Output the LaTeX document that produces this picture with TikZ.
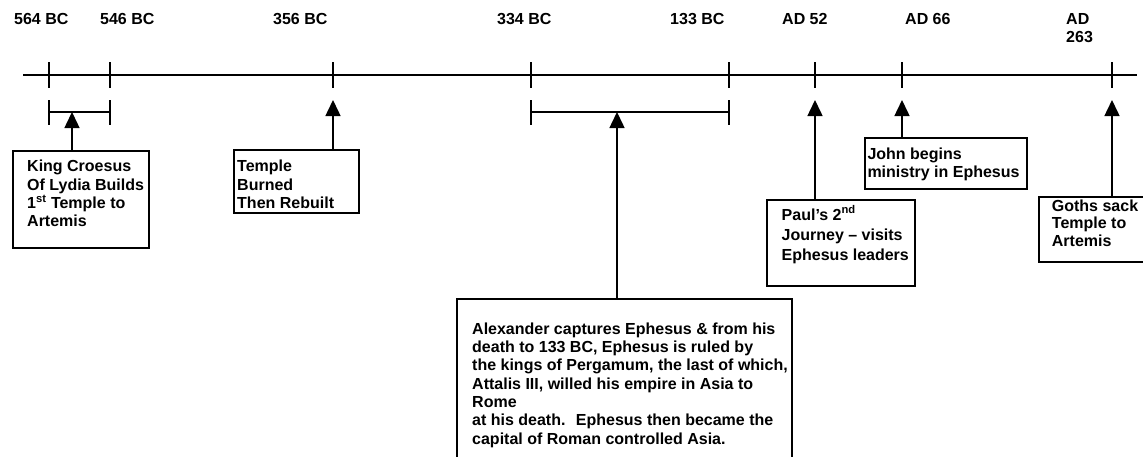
\documentclass[tikz,border=0pt]{standalone}
\usepackage{fontspec}
\setmainfont{Liberation Sans}
\usetikzlibrary{arrows.meta}
\begin{document}
\begin{tikzpicture}[x=1pt,y=-1pt,
  txt/.style={font=\fontsize{16}{18.3}\selectfont\bfseries, inner sep=0pt, anchor=base west},
  box/.style={draw, line width=1.8pt, inner sep=0pt, anchor=north west},
  ln/.style={line width=1.5pt},
  arr/.style={line width=1.5pt, -{Triangle[length=16pt,width=15pt]}}]
\useasboundingbox (0,0) rectangle (1143,456);
\clip (0,0) rectangle (1143,456);

% timeline
\coordinate (L) at (23,75);
\coordinate (R) at (1137,75);
\draw[ln] (L) -- (R);
\foreach \x in {49,110,333,531,729,815,902,1112}
  \draw[ln] (\x,62) -- (\x,88);

% date labels
\node[txt] (d1) at (14,24) {564 BC};
\node[txt] (d2) at (100,24) {546 BC};
\node[txt] (d3) at (273,24) {356 BC};
\node[txt] (d4) at (497,24) {334 BC};
\node[txt] (d5) at (670,24) {133 BC};
\node[txt] (d6) at (782,24) {AD 52};
\node[txt] (d7) at (905,24) {AD 66};
\node[txt] (d8) at (1066,24) {\parbox[t]{60pt}{\baselineskip=18.3pt AD\\263}};

% brackets
\draw[ln] (49,100) -- (49,125) (110,100) -- (110,125) (49,112) -- (110,112);
\draw[ln] (531,100) -- (531,125) (729,100) -- (729,125) (531,112) -- (729,112);
\coordinate (bK) at (72,112);
\coordinate (bA) at (617,112);
\coordinate (aT) at (333,100);
\coordinate (aP) at (815,100);
\coordinate (aJ) at (902,100);
\coordinate (aG) at (1112,100);

% boxes
\node[box, minimum width=136pt, minimum height=97pt] (boxK) at (12,150) {};
\node[box, minimum width=125pt, minimum height=63pt] (boxT) at (233,149) {};
\node[box, minimum width=335pt, minimum height=200pt] (boxA) at (456,298) {};
\node[box, minimum width=148pt, minimum height=86pt] (boxP) at (766,199) {};
\node[box, minimum width=162pt, minimum height=51pt] (boxJ) at (864,137) {};
\node[box, minimum width=130pt, minimum height=65pt] (boxG) at (1038,196) {};

% texts
\node[txt] (tK) at (27,171.7) {\parbox[t]{130pt}{\baselineskip=18.3pt King Croesus\\Of Lydia Builds\\1\textsuperscript{st} Temple to\\Artemis}};
\node[txt] (tT) at (237,171.7) {\parbox[t]{120pt}{\baselineskip=18.3pt Temple\\Burned\\Then Rebuilt}};
\node[txt] (tA) at (472,334.3) {\parbox[t]{330pt}{\baselineskip=18.3pt Alexander captures Ephesus \& from his\\death to 133 BC, Ephesus is ruled by\\the kings of Pergamum, the last of which,\\Attalis III, willed his empire in Asia to\\Rome\\at his death.~ Ephesus then became the\\capital of Roman controlled Asia.}};
\node[txt] (tP) at (781.5,220) {\parbox[t]{140pt}{\baselineskip=18.3pt Paul’s 2\textsuperscript{nd}\\[2pt]Journey – visits\\[1.7pt]Ephesus leaders}};
\node[txt] (tJ) at (867.3,159.3) {\parbox[t]{160pt}{\baselineskip=18pt John begins\\ministry in Ephesus}};
\node[txt] (tG) at (1051.7,211) {\parbox[t]{100pt}{\baselineskip=17.6pt Goths sack\\Temple to\\Artemis}};

% connectors
\draw[arr] (bK |- boxK.north) -- (bK);
\draw[arr] (aT |- boxT.north) -- (aT);
\draw[arr] (bA |- boxA.north) -- (bA);
\draw[arr] (aP |- boxP.north) -- (aP);
\draw[arr] (aJ |- boxJ.north) -- (aJ);
\draw[arr] (aG |- boxG.north) -- (aG);
\end{tikzpicture}
\end{document}
